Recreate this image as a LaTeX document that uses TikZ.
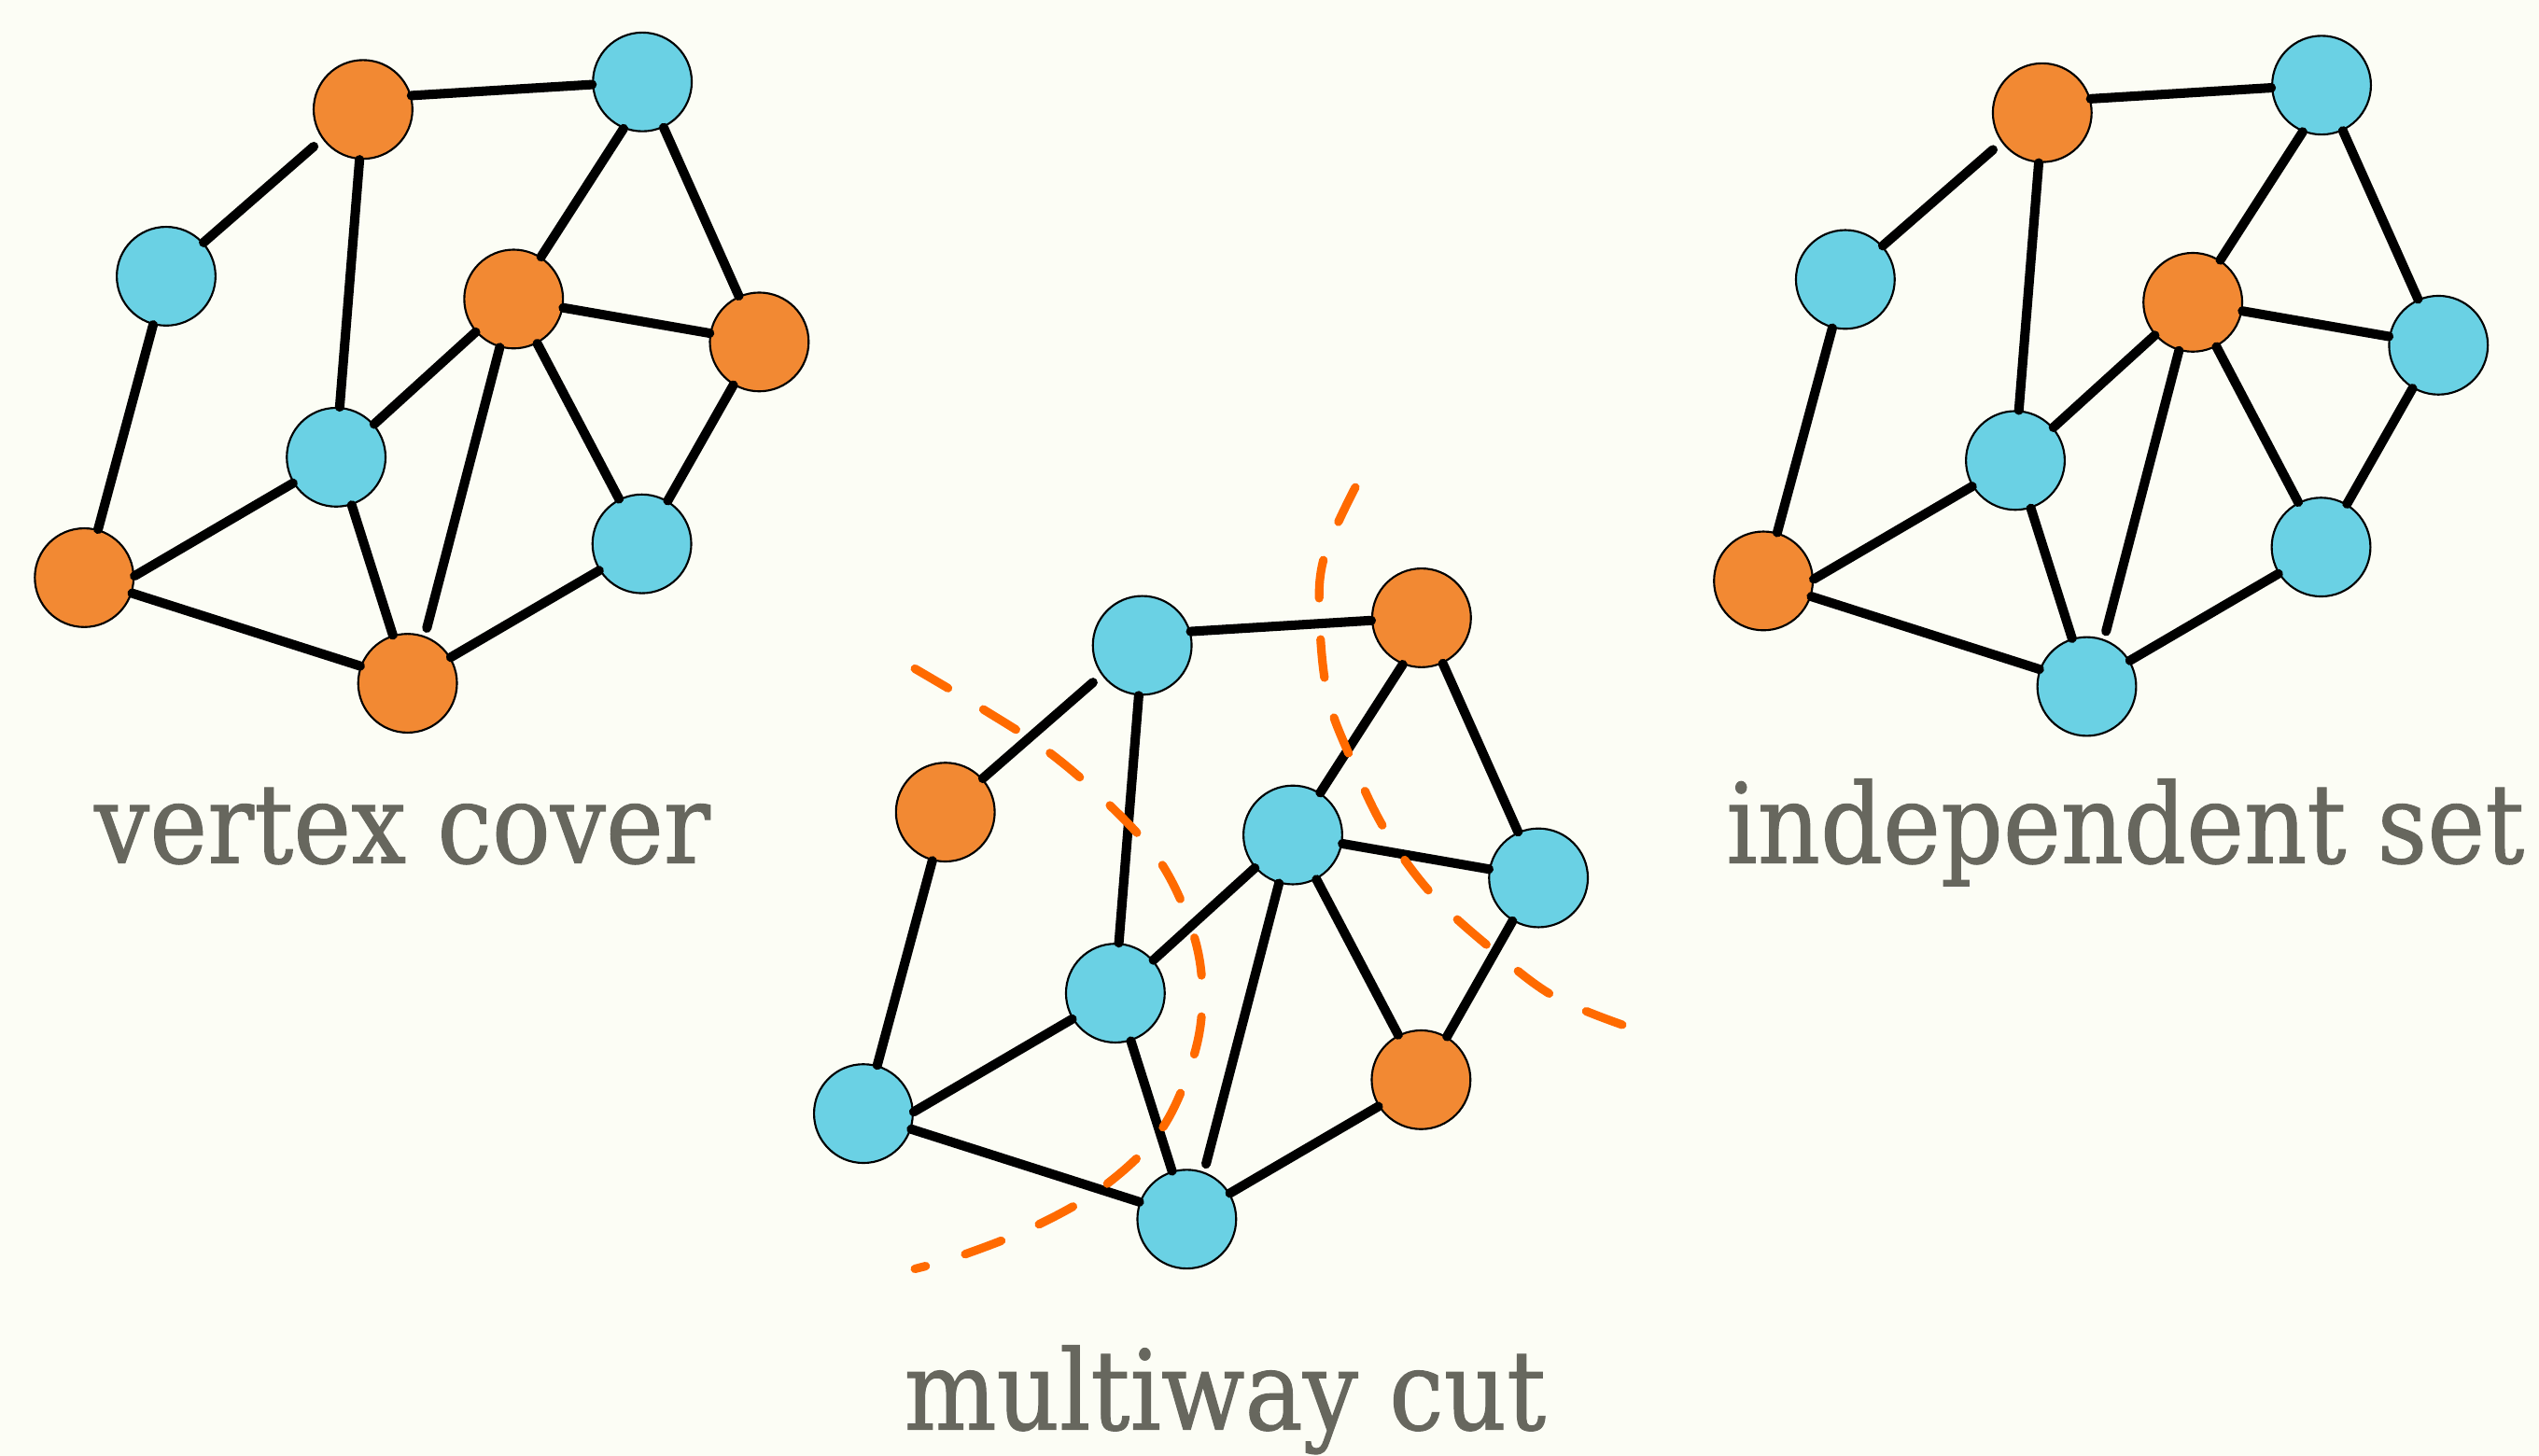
\documentclass[tikz,border=0pt]{standalone}
\usepackage{fontspec}
\newfontfamily\labelfont[FakeStretch=0.88, FakeBold=0.8]{DejaVu Serif}

\definecolor{paper}{RGB}{252,253,245}
\definecolor{pickorange}{RGB}{242,137,51}
\definecolor{plainblue}{RGB}{106,209,228}
\definecolor{cutorange}{RGB}{255,106,0}
\definecolor{captiongray}{RGB}{103,103,94}

% the fifteen edges of the graph whose vertices are named #1a ... #1i
\newcommand\graphedges[1]{%
  \draw[edge] (#1a.16) -- (#1b.183);
  \draw[edge, shorten >=0.14cm] (#1c.42) -- (#1a.216);
  \draw[edge] (#1a.266) -- (#1f.86);
  \draw[edge] (#1b.248) -- (#1d.57);
  \draw[edge] (#1b.295) -- (#1e.114);
  \draw[edge] (#1c.255) -- (#1g.74);
  \draw[edge] (#1d.350) -- (#1e.170);
  \draw[edge] (#1d.221) -- (#1f.41);
  \draw[edge, shorten >=0.1cm] (#1d.254) -- (#1i.70);
  \draw[edge] (#1d.298) -- (#1h.117);
  \draw[edge] (#1e.239) -- (#1h.59);
  \draw[edge] (#1f.211) -- (#1g.2);
  \draw[edge] (#1f.288) -- (#1i.107);
  \draw[edge] (#1g.342) -- (#1i.160);
  \draw[edge] (#1h.212) -- (#1i.31);
}

\begin{document}
\begin{tikzpicture}[x=0.02cm, y=-0.02cm,
  vertex/.style={circle, draw=black, line width=0.7pt, minimum size=1.22cm, inner sep=0pt},
  picked/.style={vertex, fill=pickorange},
  plain/.style={vertex, fill=plainblue},
  edge/.style={line width=3.3pt, line cap=round},
  cut/.style={draw=cutorange, line width=3.0pt, line cap=round,
              dash pattern=on 13.5pt off 14.5pt},
  caption/.style={font=\labelfont\fontsize{39}{39}\selectfont, text=captiongray,
                  anchor=base, inner sep=0pt}]

\fill[paper] (0,0) rectangle (1568,899);
\useasboundingbox (0,0) rectangle (1568,899);

% vertex cover
\begin{scope}
  \node[picked] (vca) at (224.2,67.6) {};
  \node[plain]  (vcb) at (396.7,50.6) {};
  \node[plain]  (vcc) at (102.6,170.6) {};
  \node[picked] (vcd) at (317.2,184.7) {};
  \node[picked] (vce) at (468.9,211.2) {};
  \node[plain]  (vcf) at (207.6,282.4) {};
  \node[picked] (vcg) at (52,356.8) {};
  \node[plain]  (vch) at (396.4,335.9) {};
  \node[picked] (vci) at (251.7,422) {};
\end{scope}
\graphedges{vc}

% multiway cut
\begin{scope}[shift={(481.2,331)}]
  \node[plain]  (mca) at (224.2,67.6) {};
  \node[picked] (mcb) at (396.7,50.6) {};
  \node[picked] (mcc) at (102.6,170.6) {};
  \node[plain]  (mcd) at (317.2,184.7) {};
  \node[plain]  (mce) at (468.9,211.2) {};
  \node[plain]  (mcf) at (207.6,282.4) {};
  \node[plain]  (mcg) at (52,356.8) {};
  \node[picked] (mch) at (396.4,335.9) {};
  \node[plain]  (mci) at (251.7,422) {};
\end{scope}
\graphedges{mc}

% independent set
\begin{scope}[shift={(1037,2)}]
  \node[picked] (isa) at (224.2,67.6) {};
  \node[plain]  (isb) at (396.7,50.6) {};
  \node[plain]  (isc) at (102.6,170.6) {};
  \node[picked] (isd) at (317.2,184.7) {};
  \node[plain]  (ise) at (468.9,211.2) {};
  \node[plain]  (isf) at (207.6,282.4) {};
  \node[picked] (isg) at (52,356.8) {};
  \node[plain]  (ish) at (396.4,335.9) {};
  \node[plain]  (isi) at (251.7,422) {};
\end{scope}
\graphedges{is}

% the two cuts through the middle graph
\draw[cut] plot[smooth, tension=0.6] coordinates {
  (565,413) (607,438) (647,464) (684,496) (717,533) (737,577) (742.5,615)
  (737,653) (717,698) (682,732.5) (640,757) (595,775) (565,783.7)};
\draw[cut] plot[smooth, tension=0.6] coordinates {
  (837,301) (817.5,345) (815,383) (820,430) (834,468) (855,512) (884,552)
  (921,586) (959,615) (1002,633)};

% captions
\node[caption] (vclabel) at (248.5,533) {vertex cover};
\node[caption] (islabel) at (1312.5,533) {independent set};
\node[caption] (mclabel) at (756.5,883) {multiway cut};
\end{tikzpicture}
\end{document}
